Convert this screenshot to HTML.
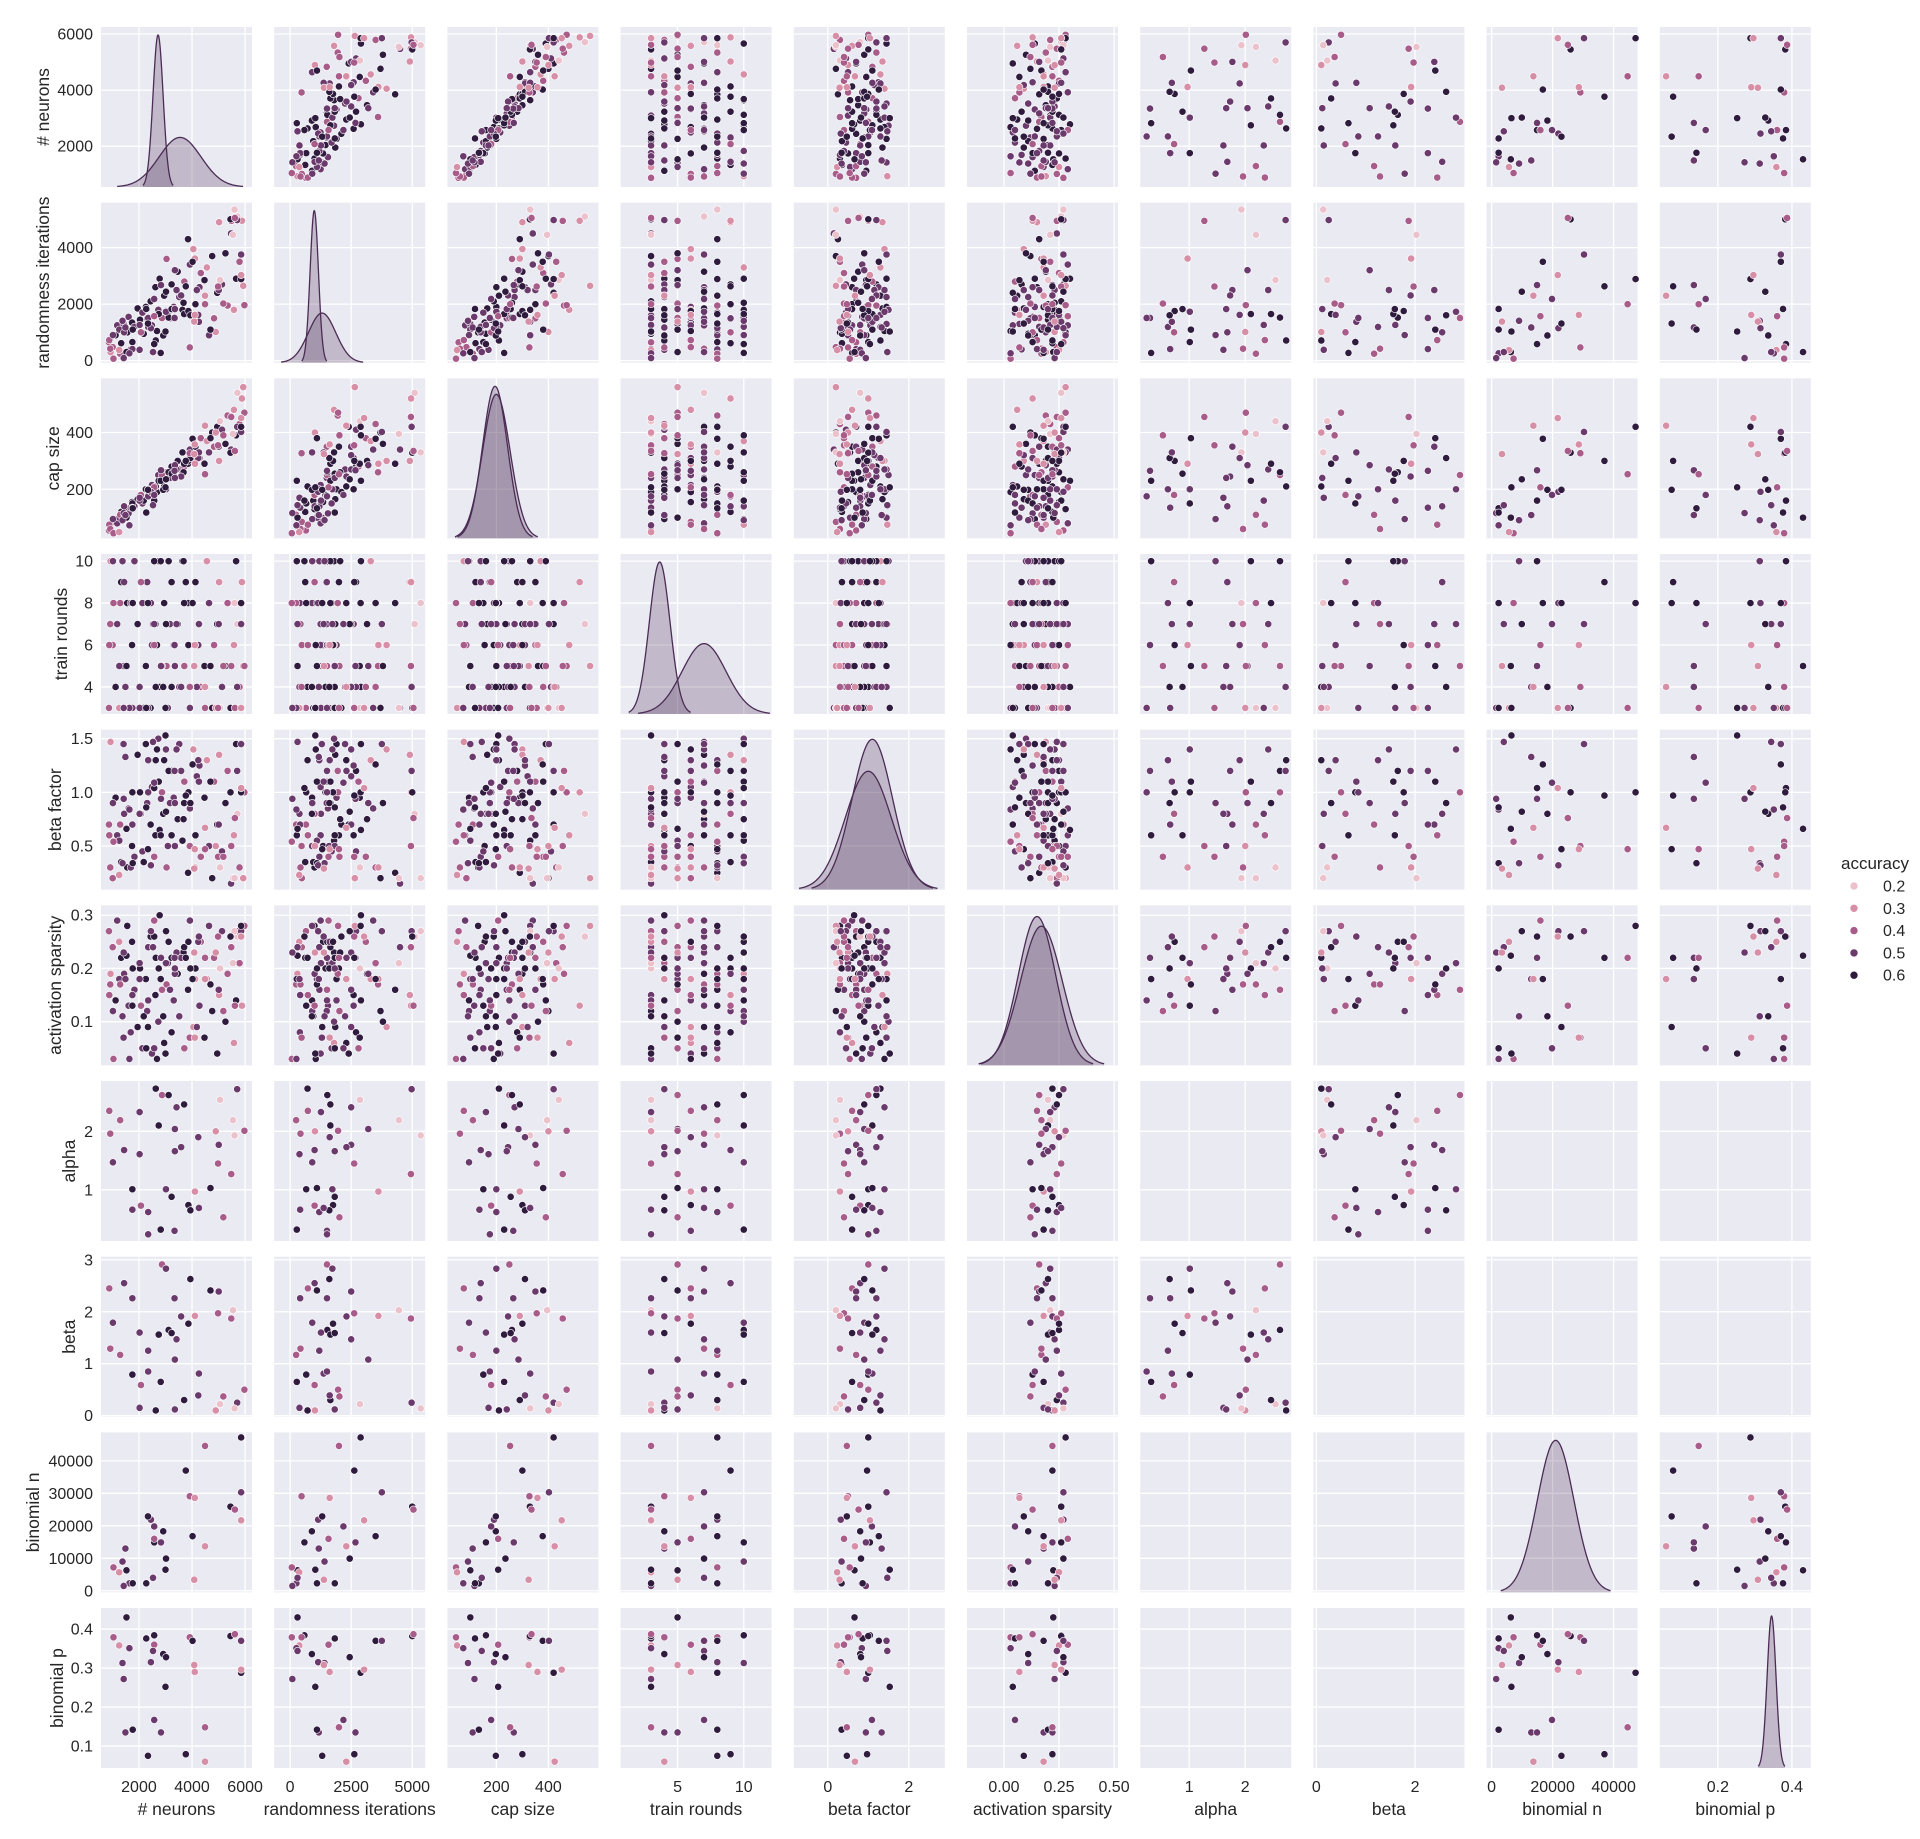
<!DOCTYPE html>
<html><head><meta charset="utf-8"><title>Pairplot</title>
<style>
html,body{margin:0;padding:0;background:#fff;}
svg{display:block;font-family:"Liberation Sans",Arial,sans-serif;}
</style></head>
<body>
<svg id="chart" width="1920" height="1839" viewBox="0 0 1920 1839" xmlns="http://www.w3.org/2000/svg"></svg>
<script>
// ---- Group A: rows with only base hyperparameters ----
const nA=[870,930,1010,1120,1180,1330,1420,1560,1610,1740,1830,1950,2040,2130,2260,2310,2440,2490,2620,2730,2780,2950,3040,3090,3230,3310,3460,3520,3640,3710,3850,3920,4050,4130,4280,4330,4470,4560,4640,4760,4830,4950,5020,5130,5260,5340,5470,5580,5660,5710,5790,5880,1260,1690,2180,2680,3170,3680,4180,5930];
const randA=[650,300,480,900,1250,620,1300,1000,1550,1350,1200,1850,1450,1700,1900,1500,2100,1250,2600,1800,2900,2300,3600,1600,2700,1900,3150,2250,1800,2800,4300,3400,3950,2000,2600,3100,2850,3300,900,3700,1500,2400,4900,2700,3800,1950,4500,1800,2900,5100,3500,4950,1100,400,950,1050,1500,2050,2500,2650];
const capA=[55,75,85,95,80,120,100,130,115,155,140,165,180,150,200,175,190,215,200,250,230,210,260,240,280,250,300,270,330,280,290,340,300,350,310,380,290,370,330,400,350,420,300,410,360,460,340,480,390,540,430,520,100,135,160,190,240,260,320,560];
const roundsA=[3,10,6,4,7,9,5,8,3,6,10,7,4,8,5,9,3,6,7,10,4,8,5,3,9,6,7,4,10,5,8,3,6,9,7,4,5,10,8,3,6,7,9,4,5,8,3,6,10,7,4,9,5,8,3,6,7,10,4,5];
const betaFA=[0.7,1.47,0.2,0.95,0.6,0.35,1.45,0.3,0.85,0.5,0.4,1.35,1.0,0.45,1.45,0.9,0.7,1.05,0.6,1.5,0.65,1.3,0.3,0.5,1.2,0.95,0.75,1.45,0.55,1.1,0.25,0.85,1.4,0.6,1.25,0.4,0.95,1.3,0.5,0.2,1.1,0.7,1.35,0.45,0.9,1.2,0.15,0.6,1.45,0.8,0.3,1.0,0.55,0.3,0.35,1.4,0.9,0.75,1.15,0.2];
const sparsA=[.27,.19,.24,.14,.29,.22,.07,.28,.13,.25,.16,.09,.2,.05,.18,.12,.26,.04,.15,.1,.3,.06,.17,.21,.08,.14,.19,.11,.23,.05,.16,.29,.09,.2,.13,.25,.07,.18,.28,.12,.22,.04,.15,.27,.1,.19,.24,.06,.14,.26,.21,.13,.18,.08,.11,.03,.16,.23,.09,.28];
const accA=[.4,.3,.4,.6,.5,.6,.5,.6,.5,.6,.5,.6,.6,.5,.6,.5,.6,.5,.6,.5,.6,.6,.4,.5,.6,.5,.6,.5,.6,.4,.6,.5,.3,.6,.5,.4,.6,.3,.5,.6,.4,.6,.3,.5,.6,.4,.5,.3,.6,.2,.4,.3,.5,.5,.6,.6,.5,.6,.5,.3];
// ---- Group B: rows with alpha / beta ----
const nB=[2633,2869,3118,5701,5055,3416,3702,882,2025,1292,5540,2745,3354,919,4894,5602,5974,4236,5006,3590,1441,4981,1019,5478,1752,3018,4111,4695,3230,2075,3863,1752,2348,3938,4260,5180,2820,3341,2348,2025,3354];
const randB=[715,1511,1525,4974,2858,2500,1649,728,1264,247,4452,1649,3201,426,1017,5345,1965,1621,2500,2308,1003,2624,907,4946,660,1731,3614,1099,1827,1003,1758,412,1195,1607,1374,2020,275,1511,1511,385,1827];
const capB=[210,250,260,420,440,270,290,75,160,110,395,230,285,60,400,330,470,310,350,245,140,355,95,455,150,200,290,380,255,180,300,135,200,310,330,390,230,265,175,170,240];
const roundsB=[4,5,10,4,3,7,8,6,3,8,3,10,5,7,3,8,5,6,7,4,9,3,10,5,8,7,6,5,4,9,6,3,8,4,7,5,10,6,3,4,5];
const betaFB=[1.3,1.0,1.2,1.2,0.3,1.4,0.9,0.6,0.8,0.7,0.2,1.1,0.9,0.3,0.5,0.2,1.0,1.3,0.7,1.2,0.8,0.4,0.9,0.5,1.0,1.4,0.3,1.1,0.6,0.8,1.0,0.7,1.3,0.9,1.1,0.4,0.6,1.2,1.0,0.8,0.5];
const sparsB=[0.22,0.16,0.25,0.27,0.20,0.23,0.24,0.15,0.21,0.17,0.21,0.20,0.19,0.17,0.23,0.27,0.28,0.25,0.16,0.22,0.19,0.26,0.12,0.24,0.13,0.21,0.18,0.17,0.22,0.13,0.25,0.15,0.24,0.20,0.26,0.12,0.18,0.22,0.14,0.18,0.20];
const alphaB=[2.73,2.62,2.62,2.72,2.54,2.41,2.46,2.35,2.33,2.19,2.19,2.10,2.04,1.96,2.0,1.93,2.01,1.90,1.77,1.73,1.68,1.45,1.47,1.27,1.01,1.01,0.97,1.03,0.88,0.73,0.74,0.66,0.62,0.65,0.69,0.53,0.32,0.30,0.24,1.61,1.66];
const betaB=[0.10,2.91,1.65,0.25,0.22,1.47,0.30,2.45,1.60,1.17,2.03,1.56,1.08,1.29,0.10,0.14,0.50,0.39,2.39,1.91,2.55,1.97,1.79,1.87,0.79,2.83,1.92,2.41,1.59,0.59,1.77,2.26,1.25,2.63,0.81,0.37,0.65,2.26,0.85,0.15,0.12];
const accB=[.6,.4,.6,.5,.2,.5,.6,.4,.5,.4,.2,.6,.5,.4,.3,.2,.4,.5,.5,.5,.5,.4,.5,.4,.6,.5,.3,.6,.6,.4,.6,.5,.5,.6,.5,.4,.6,.5,.5,.5,.5];
// ---- Group C: rows with binomial n / p ----
const nC=[1530,1040,1255,1640,1380,1425,1490,1765,2275,2575,2575,2530,2450,2915,3020,3000,2575,2830,2340,3765,3915,4020,4085,4105,4490,4490,5450,5615,5850,5850,5850];
const randC=[305,70,375,260,1410,94,1175,1100,1830,587,1573,305,1150,892,2440,1033,2183,2676,1315,2630,470,3500,1385,1620,2000,2300,5000,5050,3756,2887,3030];
const capC=[100,45,49,73,91,116,109,133,118,160,207,144,191,198,235,207,180,267,198,300,327,378,324,358,253,424,329,335,402,420,451];
const roundsC=[5,8,3,3,10,3,4,8,3,10,6,7,8,4,7,3,7,5,8,9,4,8,5,6,3,4,3,3,7,8,3];
const betaFC=[0.66,0.54,0.23,0.84,0.34,0.94,1.33,0.34,0.86,1.04,0.4,1.47,0.32,0.8,0.82,1.53,1.09,0.94,0.47,0.97,0.5,1.26,0.29,0.47,0.47,0.67,1.0,0.76,1.45,1.0,1.04];
const sparsC=[.224,.03,.25,.03,.11,.23,.18,.2,.05,.26,.29,.24,.27,.11,.27,.04,.05,.22,.09,.22,.07,.18,.23,.07,.22,.18,.26,.13,.27,.28,.26];
const binNC=[6300,7200,5700,2300,9000,1500,13000,2300,2300,14900,16000,4000,21900,18300,9900,6500,19800,14900,22900,37000,29100,16800,3400,28600,44600,13700,25900,25000,30300,47200,21700];
const binPC=[.43,.379,.358,.351,.313,.272,.135,.142,.376,.384,.36,.344,.315,.336,.328,.252,.167,.135,.075,.079,.379,.37,.308,.29,.148,.06,.382,.387,.37,.288,.296];
const accC=[.6,.4,.3,.5,.5,.5,.5,.6,.6,.6,.4,.5,.5,.6,.6,.6,.5,.5,.6,.6,.4,.6,.3,.3,.4,.3,.6,.4,.5,.6,.3];

const NA=nA.length, NB=nB.length, NC=nC.length;
const nulls=k=>Array(k).fill(null);
const neurons=[...nA,...nB,...nC];
const randIters=[...randA,...randB,...randC];
const capSize=[...capA,...capB,...capC];
const trainRounds=[...roundsA,...roundsB,...roundsC];
const betaFactor=[...betaFA,...betaFB,...betaFC];
const actSparsity=[...sparsA,...sparsB,...sparsC];
const alphaVals=[...nulls(NA),...alphaB,...nulls(NC)];
const betaVals=[...nulls(NA),...betaB,...nulls(NC)];
const binomN=[...nulls(NA),...nulls(NB),...binNC];
const binomP=[...nulls(NA),...nulls(NB),...binPC];
const accuracy=[...accA,...accB,...accC];

const varNames=["# neurons","randomness iterations","cap size","train rounds","beta factor","activation sparsity","alpha","beta","binomial n","binomial p"];
const varKeys=["neurons","randomness-iterations","cap-size","train-rounds","beta-factor","activation-sparsity","alpha","beta","binomial-n","binomial-p"];
const xTicks=[[2000,4000,6000],[0,2500,5000],[200,400],[5,10],[0,2],[0,0.25,0.5],[1,2],[0,2],[0,20000,40000],[0.2,0.4]];
const xTickLabels=[["2000","4000","6000"],["0","2500","5000"],["200","400"],["5","10"],["0","2"],["0.00","0.25","0.50"],["1","2"],["0","2"],["0","20000","40000"],["0.2","0.4"]];
const yTicks=[[2000,4000,6000],[0,2000,4000],[200,400],[4,6,8,10],[0.5,1.0,1.5],[0.1,0.2,0.3],[1,2],[0,1,2,3],[0,10000,20000,30000,40000],[0.1,0.2,0.3,0.4]];
const yTickLabels=[["2000","4000","6000"],["0","2000","4000"],["200","400"],["4","6","8","10"],["0.5","1.0","1.5"],["0.1","0.2","0.3"],["1","2"],["0","1","2","3"],["0","10000","20000","30000","40000"],["0.1","0.2","0.3","0.4"]];
// diagonal density curves: [mean, sd, relative peak]
const kdeMeans=[[2720,3550],[990,1310],[195,200],[3.65,7.0],[1.1,1.0],[0.15,0.17],[],[],[21000],[0.345]];
const kdeSds=[[190,790],[170,560],[48,53],[0.78,1.66],[0.5,0.57],[0.085,0.095],[],[],[6000],[0.012]];
const kdePeaks=[[0.95,0.31],[0.95,0.31],[0.95,0.9],[0.95,0.44],[0.94,0.74],[0.93,0.87],[],[],[0.95],[0.95]];
const legendLevels=[0.2,0.3,0.4,0.5,0.6];

// ---- layout ----
const xr=[[570,6260],[-650,5530],[12,592],[0.7,12.1],[-0.84,2.89],[-0.168,0.518],[0.125,2.82],[-0.06,3.0],[-1640,47870],[0.043,0.451]];
const yr=[[544,6250],[-70,5590],[27,591],[2.71,10.34],[0.093,1.584],[0.0179,0.3186],[0.125,2.86],[-0.02,3.06],[-490,48770],[0.0436,0.454]];
const yLabelX=[43,43,53,61,55,55,69,69,33,57];
const W=151,H=160,X0=101,Y0=27,PX=173.2,PY=175.67;
const vars=[neurons,randIters,capSize,trainRounds,betaFactor,actSparsity,alphaVals,betaVals,binomN,binomP];
const stops=['#ebc2cc','#d68fa6','#a85c89','#6b3a6c','#2e1b3d'];
function col(a){let i=Math.round((a-0.2)/0.1);i=Math.max(0,Math.min(4,i));return stops[i];}
function sx(c,v){const r=xr[c];return X0+c*PX+(v-r[0])/(r[1]-r[0])*W;}
function sy(r,v){const q=yr[r];return Y0+r*PY+H-(v-q[0])/(q[1]-q[0])*H;}
const NS='http://www.w3.org/2000/svg';
const svg=document.getElementById('chart');
function mk(tag,attrs,parent){const e=document.createElementNS(NS,tag);for(const k in attrs)e.setAttribute(k,attrs[k]);(parent||svg).appendChild(e);return e;}

for(let r=0;r<10;r++){
  for(let c=0;c<10;c++){
    const px=X0+c*PX, py=Y0+r*PY;
    const g=mk('g',{});
    
    
    const bg=mk('rect',{x:px,y:py,width:W,height:H,fill:'#eaeaf2'},g);
    
    
    xTicks[c].forEach(t=>{const x=sx(c,t);if(x>=px&&x<=px+W){const l=mk('line',{x1:x,x2:x,y1:py,y2:py+H,stroke:'#fff','stroke-width':1.3},g);
      
      }});
    yTicks[r].forEach(t=>{const y=sy(r,t);if(y>=py&&y<=py+H){const l=mk('line',{x1:px,x2:px+W,y1:y,y2:y,stroke:'#fff','stroke-width':1.3},g);
      
      }});
    if(r===c){
      const rr=xr[c];
      for(let k=0;k<kdeMeans[c].length;k++){
        const m=kdeMeans[c][k], s=kdeSds[c][k], pk=kdePeaks[c][k];
        let d='';
        const lo=m-3*s, hi=m+3*s;
        for(let i=0;i<=120;i++){const v=lo+(hi-lo)*i/120;const yv=py+H-pk*H*Math.exp(-0.5*((v-m)/s)**2);d+=(i?'L':'M')+sx(c,v).toFixed(2)+','+yv.toFixed(2);}
        const area=mk('path',{d:d+'L'+sx(c,hi).toFixed(2)+','+(py+H)+'L'+sx(c,lo).toFixed(2)+','+(py+H)+'Z',fill:'#4b2c55','fill-opacity':0.25,stroke:'none'},g);
        
        
        const ln=mk('path',{d:d,fill:'none',stroke:'#4b2c55','stroke-width':1.3},g);
        
        
      }
    } else {
      const xs=vars[c], ys=vars[r];
      for(let i=0;i<xs.length;i++){
        if(xs[i]===null||ys[i]===null)continue;
        const dot=mk('circle',{cx:sx(c,xs[i]).toFixed(2),cy:sy(r,ys[i]).toFixed(2),r:3.6,fill:col(accuracy[i]),stroke:'#fff','stroke-width':0.6},g);
        
        
      }
    }
  }
}
// y tick labels and titles
for(let r=0;r<10;r++){
  yTicks[r].forEach((t,i)=>{const y=sy(r,t);if(y>=Y0+r*PY-2&&y<=Y0+r*PY+H+2){
    const tx=mk('text',{x:93,y:y+5.5,'text-anchor':'end','font-size':16,fill:'#262626'});
    tx.textContent=yTickLabels[r][i];
    
    }});
  const cy=Y0+r*PY+H/2;
  const tt=mk('text',{x:yLabelX[r],y:cy,'text-anchor':'middle','font-size':17.5,fill:'#262626',transform:'rotate(-90 '+yLabelX[r]+' '+cy+')','dominant-baseline':'central'});
  tt.textContent=varNames[r];
  
  
}
for(let c=0;c<10;c++){
  xTicks[c].forEach((t,i)=>{const x=sx(c,t);if(x>=X0+c*PX-2&&x<=X0+c*PX+W+2){
    const tx=mk('text',{x:x,y:1792,'text-anchor':'middle','font-size':16,fill:'#262626'});
    tx.textContent=xTickLabels[c][i];
    
    }});
  const tt=mk('text',{x:X0+c*PX+W/2,y:1815,'text-anchor':'middle','font-size':17.5,fill:'#262626'});
  tt.textContent=varNames[c];
  
  
}
// legend
const lg=mk('g',{});


const lt=mk('text',{x:1875,y:869,'text-anchor':'middle','font-size':17,fill:'#262626'},lg);
lt.textContent='accuracy';


legendLevels.forEach((a,i)=>{
  const y=886+i*22.3;
  const m=mk('circle',{cx:1854,cy:y,r:4,fill:col(a),stroke:'#fff','stroke-width':0.6},lg);
  
  
  const t=mk('text',{x:1883,y:y+5.5,'font-size':16,fill:'#262626'},lg);
  t.textContent=a.toFixed(1);
  
  
});
</script>
</body></html>
